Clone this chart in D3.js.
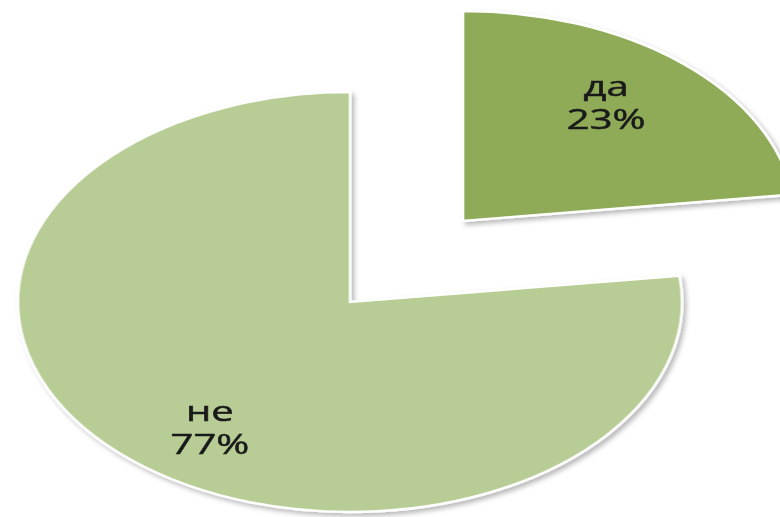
<!DOCTYPE html>
<html lang="ru">
<meta charset="utf-8">
<script src="https://d3js.org/d3.v7.min.js"></script>
<head>
    <style type="text/css">
        body { margin: 0; background: white; }
        .label {
            font-family: "Open Sans", sans-serif;
            font-size: 27px;
            fill: #1a1a1a;
            stroke: #1a1a1a;
            stroke-width: 0.5;
        }
    </style>
</head>
<body>
    <div id="my_dataviz"></div>
    <script>

        // data
        const categories = ["да", "не"];
        const values = [23, 77];
        const percentLabels = ["23%", "77%"];
        const colors = ["#8fab58", "#b8cd95"];

        const width = 780, height = 517;
        const cx = 350, cy = 302;
        const radius = 210;          // pie drawn as circle then stretched sideways
        const stretchX = 332 / 210;  // the original picture is squashed
        const explode = [0.515, 0];  // pulled-out fraction of radius per slice
        const nudge = [[-15, -4], [18, 13]]; // label tweaks, px

        const svg = d3.select("#my_dataviz")
            .append("svg")
            .attr("width", width)
            .attr("height", height);

        const defs = svg.append("defs");
        const f = defs.append("filter")
            .attr("id", "shadow")
            .attr("x", "-10%").attr("y", "-10%")
            .attr("width", "130%").attr("height", "130%");
        f.append("feDropShadow")
            .attr("dx", 3).attr("dy", 3)
            .attr("stdDeviation", 2.5)
            .attr("flood-color", "#000")
            .attr("flood-opacity", 0.28);

        const pie = d3.pie().sort(null).value(d => d.value);
        const arcs = pie(categories.map((c, i) => ({ cat: c, value: values[i], pct: percentLabels[i], i: i })));

        const arc = d3.arc().innerRadius(0).outerRadius(radius);
        const labelArc = d3.arc().innerRadius(radius * 0.72).outerRadius(radius * 0.72);

        // offset of each slice, along its middle angle
        function offset(d) {
            const a = (d.startAngle + d.endAngle) / 2;
            const k = explode[d.data.i] * radius;
            return [Math.sin(a) * k, -Math.cos(a) * k];
        }

        const outer = svg.append("g").attr("filter", "url(#shadow)");
        const g = outer.append("g")
            .attr("transform", `translate(${cx},${cy}) scale(${stretchX},1)`);

        g.selectAll("path")
            .data(arcs)
            .join("path")
            .attr("transform", d => `translate(${offset(d)})`)
            .attr("d", arc)
            .attr("fill", d => colors[d.data.i])
            .attr("stroke", "white")
            .attr("stroke-width", 2.5)
            .attr("vector-effect", "non-scaling-stroke");

        // labels, not stretched by the path transform but placed in stretched space
        const labels = svg.append("g");
        arcs.forEach(d => {
            const o = offset(d);
            const c = labelArc.centroid(d);
            const n = nudge[d.data.i];
            const x = cx + (c[0] + o[0]) * stretchX + n[0];
            const y = cy + c[1] + o[1] + n[1];
            const t = labels.append("text")
                .attr("class", "label")
                .attr("text-anchor", "middle")
                .attr("transform", `translate(${x},${y}) scale(1.48,1)`);
            t.append("tspan").attr("x", 0).attr("y", -7).text(d.data.cat);
            t.append("tspan").attr("x", 0).attr("y", 26).text(d.data.pct);
        });

    </script>
</body>
</html>
